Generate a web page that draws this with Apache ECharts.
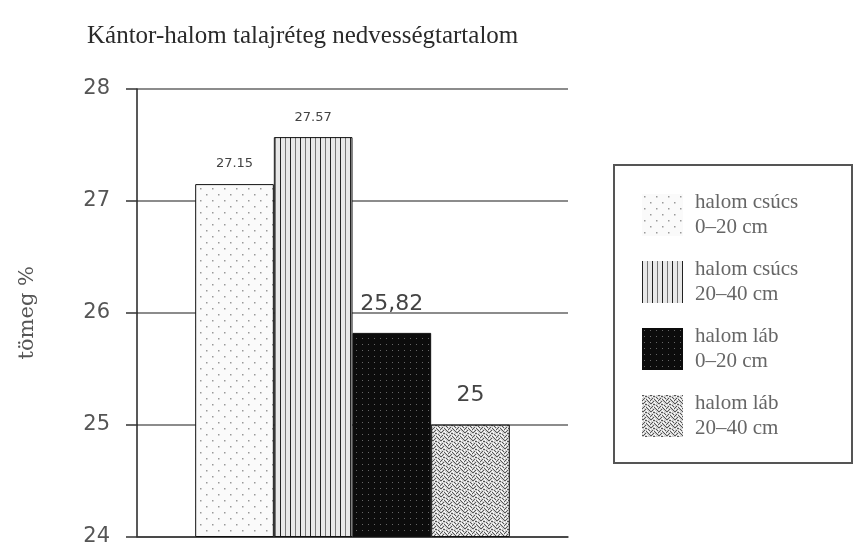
<!DOCTYPE html>
<html>
<head>
<meta charset="utf-8">
<script src="https://cdn.jsdelivr.net/npm/echarts@6/dist/echarts.min.js"></script>
<style>
  html, body { margin: 0; padding: 0; background: #fff; }
  #chart { width: 854px; height: 547px; }
</style>
</head>
<body>
<div id="chart"></div>
<script>
    // data
    var categories  = ['Kántor-halom'];
    var seriesNames = ['halom csúcs\n0–20 cm', 'halom csúcs\n20–40 cm', 'halom láb\n0–20 cm', 'halom láb\n20–40 cm'];
    var values      = [27.15, 27.57, 25.82, 25];
    var labelTexts  = ['27.15', '27.57', '25,82', '25'];
    var yMin = 24, yMax = 28, yStep = 1;

    // fill patterns, one per series
    function makePattern(w, h, draw) {
        var c = document.createElement('canvas');
        c.width = w; c.height = h;
        draw(c.getContext('2d'));
        return { image: c, repeat: 'repeat' };
    }
    var dotsLight = makePattern(12, 12, function (ctx) {
        ctx.fillStyle = '#fafafa'; ctx.fillRect(0, 0, 12, 12);
        ctx.fillStyle = '#999';
        ctx.fillRect(2, 2, 1.5, 1.5);
        ctx.fillRect(8, 8, 1.5, 1.5);
    });
    var stripes = makePattern(10, 10, function (ctx) {
        ctx.fillStyle = '#e8e8e8'; ctx.fillRect(0, 0, 10, 10);
        ctx.fillStyle = '#222';
        ctx.fillRect(0, 0, 1, 10);
        ctx.fillStyle = '#777';
        ctx.fillRect(5, 0, 1, 10);
    });
    var dotsDark = makePattern(6, 6, function (ctx) {
        ctx.fillStyle = '#0c0c0c'; ctx.fillRect(0, 0, 6, 6);
        ctx.fillStyle = '#666';
        ctx.fillRect(2, 2, 1, 1);
    });
    var speckle = makePattern(8, 8, function (ctx) {
        ctx.fillStyle = '#d4d4d4'; ctx.fillRect(0, 0, 8, 8);
        ctx.fillStyle = '#555';
        var pts = [[0,0],[1,0],[3,1],[4,1],[6,2],[7,3],[2,3],[1,4],[0,5],[4,4],[5,5],[3,6],[6,6],[7,7],[2,7]];
        pts.forEach(function (p) { ctx.fillRect(p[0], p[1], 1, 1); });
        ctx.fillStyle = '#fff';
        [[2,1],[5,0],[0,2],[5,3],[3,4],[6,4],[1,6],[4,7],[7,5]].forEach(function (p) { ctx.fillRect(p[0], p[1], 1, 1); });
    });
    var fills = [dotsLight, stripes, dotsDark, speckle];
    var labelSizes = [13, 13, 22, 22];
    var labelDist  = [14, 13, 18, 18];

    var chart = echarts.init(document.getElementById('chart'));

    var series = seriesNames.map(function (name, i) {
        return {
            name: name,
            type: 'bar',
            barGap: '0%',
            barCategoryGap: '27%',
            data: [values[i]],
            itemStyle: { color: fills[i], borderColor: '#111', borderWidth: 1 },
            label: {
                show: true,
                position: 'top',
                distance: labelDist[i],
                formatter: function () { return labelTexts[i]; },
                fontFamily: 'DejaVu Sans',
                fontSize: labelSizes[i],
                color: '#444'
            }
        };
    });

    var option = {
        backgroundColor: '#fff',
        animation: false,
        title: {
            text: 'Kántor-halom talajréteg nedvességtartalom',
            left: 82,
            top: 19,
            textStyle: {
                fontFamily: 'Liberation Serif',
                fontWeight: 'normal',
                fontSize: 25,
                color: '#2a2a2a'
            }
        },
        legend: {
            orient: 'vertical',
            left: 637,
            top: 185,
            icon: 'rect',
            itemWidth: 41,
            itemHeight: 42,
            itemGap: 17,
            itemStyle: { borderWidth: 0 },
            data: seriesNames,
            textStyle: {
                fontFamily: 'Liberation Serif',
                fontSize: 21,
                lineHeight: 25,
                padding: [0, 0, 0, 7],
                color: '#666'
            }
        },
        graphic: [{
            type: 'rect',
            shape: { x: 614, y: 165, width: 238, height: 298 },
            style: { fill: 'none', stroke: '#555', lineWidth: 2 }
        }],
        grid: {
            left: 137,
            right: 286,
            top: 89,
            bottom: 8
        },
        xAxis: {
            type: 'category',
            data: categories,
            axisLine: { lineStyle: { color: '#333', width: 1.5 } },
            axisTick: { show: false },
            axisLabel: { show: false }
        },
        yAxis: {
            type: 'value',
            min: yMin,
            max: yMax,
            interval: yStep,
            name: 'tömeg %',
            nameLocation: 'middle',
            nameGap: 99,
            nameTextStyle: {
                fontFamily: 'DejaVu Serif',
                fontSize: 21,
                color: '#555'
            },
            axisLine: { show: true, lineStyle: { color: '#222', width: 1.5 } },
            axisTick: { show: true, length: 11, lineStyle: { color: '#333', width: 1.5 } },
            axisLabel: {
                margin: 27,
                fontFamily: 'DejaVu Sans',
                fontSize: 21,
                color: '#555'
            },
            splitLine: { lineStyle: { color: '#666', width: 1.5 } }
        },
        series: series
    };

    chart.setOption(option);
</script>
</body>
</html>
